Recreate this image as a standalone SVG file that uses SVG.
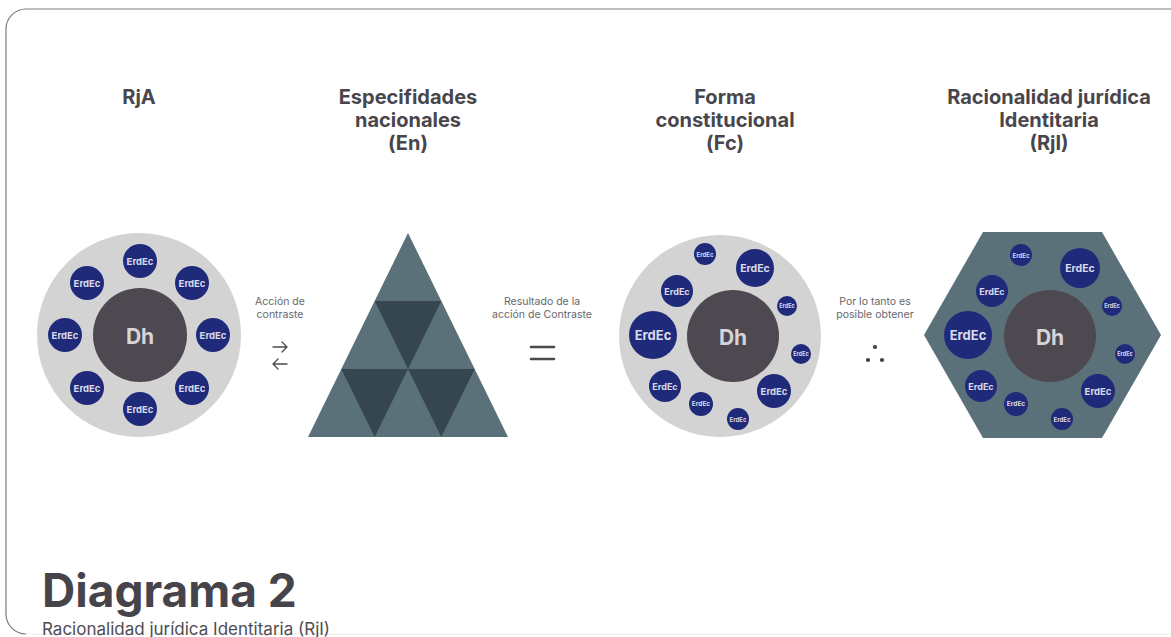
<svg xmlns="http://www.w3.org/2000/svg" width="1171" height="637" viewBox="0 0 1171 637">
  <style>
    text { font-family: Inter, "Liberation Sans", sans-serif; }
    .title { font-size: 20px; font-weight: 700; fill: #48464c; text-anchor: middle; }
    .note { font-size: 10.5px; fill: #67666b; text-anchor: middle; }
    .ring { fill: #d3d3d3; }
    .core { fill: #4e4950; }
    .core-t { font-weight: 700; fill: #d6d4d8; text-anchor: middle; dominant-baseline: central; }
    .sat { fill: #1f2a7a; }
    .sat-t { font-weight: 700; fill: #d9dbea; text-anchor: middle; dominant-baseline: central; }
    .slate { fill: #5a717a; }
    .slate-dk { fill: #35464e; }
    .op { stroke: #4a4a4e; fill: none; stroke-linecap: round; stroke-linejoin: round; }
  </style>

  <rect width="1171" height="637" fill="#ffffff"/>

  <!-- card outline -->
  <path d="M1190 9 H26 A20 20 0 0 0 6 29 V614 A20 20 0 0 0 26 634" fill="none" stroke="#7d7d80" stroke-width="1.2"/>
  <path d="M26 634 H1171" fill="none" stroke="#ececec" stroke-width="1"/>

  <!-- column headings -->
  <g id="headings">
    <text class="title" x="139" y="104">RjA</text>
    <text class="title" x="408" y="104">Especifidades</text>
    <text class="title" x="408" y="127">nacionales</text>
    <text class="title" x="408" y="150">(En)</text>
    <text class="title" x="725" y="104">Forma</text>
    <text class="title" x="725" y="127">constitucional</text>
    <text class="title" x="725" y="150">(Fc)</text>
    <text class="title" x="1049" y="104">Racionalidad jurídica</text>
    <text class="title" x="1049" y="127">Identitaria</text>
    <text class="title" x="1049" y="150">(RjI)</text>
  </g>

  <!-- RjA: ring of eight equal satellites -->
  <g id="node-rja">
    <circle class="ring" cx="139" cy="335" r="102"/>
    <circle class="core" cx="140" cy="335" r="47"/>
    <text class="core-t" x="140" y="336" font-size="21">Dh</text>
    <g font-size="9.5">
      <circle class="sat" cx="140" cy="261" r="17"/><text class="sat-t" x="140" y="261">ErdEc</text>
      <circle class="sat" cx="192" cy="283" r="17"/><text class="sat-t" x="192" y="283">ErdEc</text>
      <circle class="sat" cx="213" cy="335" r="17"/><text class="sat-t" x="213" y="335">ErdEc</text>
      <circle class="sat" cx="192" cy="388" r="17"/><text class="sat-t" x="192" y="388">ErdEc</text>
      <circle class="sat" cx="140" cy="409" r="17"/><text class="sat-t" x="140" y="409">ErdEc</text>
      <circle class="sat" cx="87" cy="388" r="17"/><text class="sat-t" x="87" y="388">ErdEc</text>
      <circle class="sat" cx="65" cy="335" r="17"/><text class="sat-t" x="65" y="335">ErdEc</text>
      <circle class="sat" cx="87" cy="283" r="17"/><text class="sat-t" x="87" y="283">ErdEc</text>
    </g>
  </g>

  <!-- En: subdivided triangle -->
  <g id="node-en">
    <polygon class="slate" points="408,233 508,437 308,437"/>
    <polygon class="slate-dk" points="374.7,301 441.3,301 408,369"/>
    <polygon class="slate-dk" points="341.3,369 408,369 374.7,437"/>
    <polygon class="slate-dk" points="408,369 474.7,369 441.3,437"/>
  </g>

  <!-- Fc: uneven satellites in a disc -->
  <g id="node-fc">
    <circle class="ring" cx="720" cy="336" r="101"/>
    <circle class="core" cx="733" cy="336" r="46"/>
    <text class="core-t" x="733" y="337" font-size="21">Dh</text>
    <circle class="sat" cx="705" cy="254" r="11"/><text class="sat-t" x="705" y="254" font-size="6">ErdEc</text>
    <circle class="sat" cx="755" cy="268" r="19"/><text class="sat-t" x="755" y="268" font-size="10.5">ErdEc</text>
    <circle class="sat" cx="677" cy="291" r="16"/><text class="sat-t" x="677" y="291" font-size="9">ErdEc</text>
    <circle class="sat" cx="787" cy="306" r="10"/><text class="sat-t" x="787" y="306" font-size="5.5">ErdEc</text>
    <circle class="sat" cx="653" cy="335" r="24"/><text class="sat-t" x="653" y="335" font-size="13">ErdEc</text>
    <circle class="sat" cx="801" cy="354" r="10"/><text class="sat-t" x="801" y="354" font-size="5.5">ErdEc</text>
    <circle class="sat" cx="665" cy="386" r="16"/><text class="sat-t" x="665" y="386" font-size="9">ErdEc</text>
    <circle class="sat" cx="774" cy="391" r="17"/><text class="sat-t" x="774" y="391" font-size="9.5">ErdEc</text>
    <circle class="sat" cx="701" cy="404" r="12"/><text class="sat-t" x="701" y="404" font-size="6.5">ErdEc</text>
    <circle class="sat" cx="738" cy="419" r="11"/><text class="sat-t" x="738" y="419" font-size="6">ErdEc</text>
  </g>

  <!-- RjI: same layout inside a hexagon -->
  <g id="node-rji">
    <polygon class="slate" points="924,335 983,232 1102,232 1161,335 1102,438 983,438"/>
    <circle class="core" cx="1050" cy="336" r="46"/>
    <text class="core-t" x="1050" y="337" font-size="21">Dh</text>
    <circle class="sat" cx="1021" cy="255" r="11"/><text class="sat-t" x="1021" y="255" font-size="6">ErdEc</text>
    <circle class="sat" cx="1080" cy="268" r="20"/><text class="sat-t" x="1080" y="268" font-size="10.5">ErdEc</text>
    <circle class="sat" cx="992" cy="291" r="16"/><text class="sat-t" x="992" y="291" font-size="9">ErdEc</text>
    <circle class="sat" cx="1112" cy="306" r="10"/><text class="sat-t" x="1112" y="306" font-size="5.5">ErdEc</text>
    <circle class="sat" cx="968" cy="335" r="24"/><text class="sat-t" x="968" y="335" font-size="13">ErdEc</text>
    <circle class="sat" cx="1125" cy="354" r="10"/><text class="sat-t" x="1125" y="354" font-size="5.5">ErdEc</text>
    <circle class="sat" cx="981" cy="386" r="16"/><text class="sat-t" x="981" y="386" font-size="9">ErdEc</text>
    <circle class="sat" cx="1098" cy="391" r="17"/><text class="sat-t" x="1098" y="391" font-size="9.5">ErdEc</text>
    <circle class="sat" cx="1016" cy="404" r="12"/><text class="sat-t" x="1016" y="404" font-size="6.5">ErdEc</text>
    <circle class="sat" cx="1062" cy="419" r="11"/><text class="sat-t" x="1062" y="419" font-size="6">ErdEc</text>
  </g>

  <!-- operators between the columns -->
  <g id="connectors">
    <g id="link-contrast">
      <text class="note" x="280" y="305">Acción de</text>
      <text class="note" x="280" y="318">contraste</text>
      <path class="op" stroke-width="1.3" d="M273 347 H287 M282 342 L287 347 L282 352"/>
      <path class="op" stroke-width="1.3" d="M287 364 H273 M278 359 L273 364 L278 369"/>
    </g>
    <g id="link-result">
      <text class="note" x="542" y="305">Resultado de la</text>
      <text class="note" x="542" y="318">acción de Contraste</text>
      <path class="op" stroke-width="2.6" stroke-linecap="butt" d="M531 347 H554 M531 359 H554"/>
    </g>
    <g id="link-therefore">
      <text class="note" x="875" y="305">Por lo tanto es</text>
      <text class="note" x="875" y="318">posible obtener</text>
      <g fill="#3f3f44">
        <circle cx="875" cy="347" r="2.1"/>
        <circle cx="868" cy="360" r="2.1"/>
        <circle cx="882" cy="360" r="2.1"/>
      </g>
    </g>
  </g>

  <!-- caption -->
  <g id="caption">
    <text x="42" y="607" font-size="46" font-weight="700" fill="#46444a">Diagrama 2</text>
    <text x="42" y="635" font-size="17" fill="#4e4d52">Racionalidad jurídica Identitaria (RjI)</text>
  </g>
</svg>
